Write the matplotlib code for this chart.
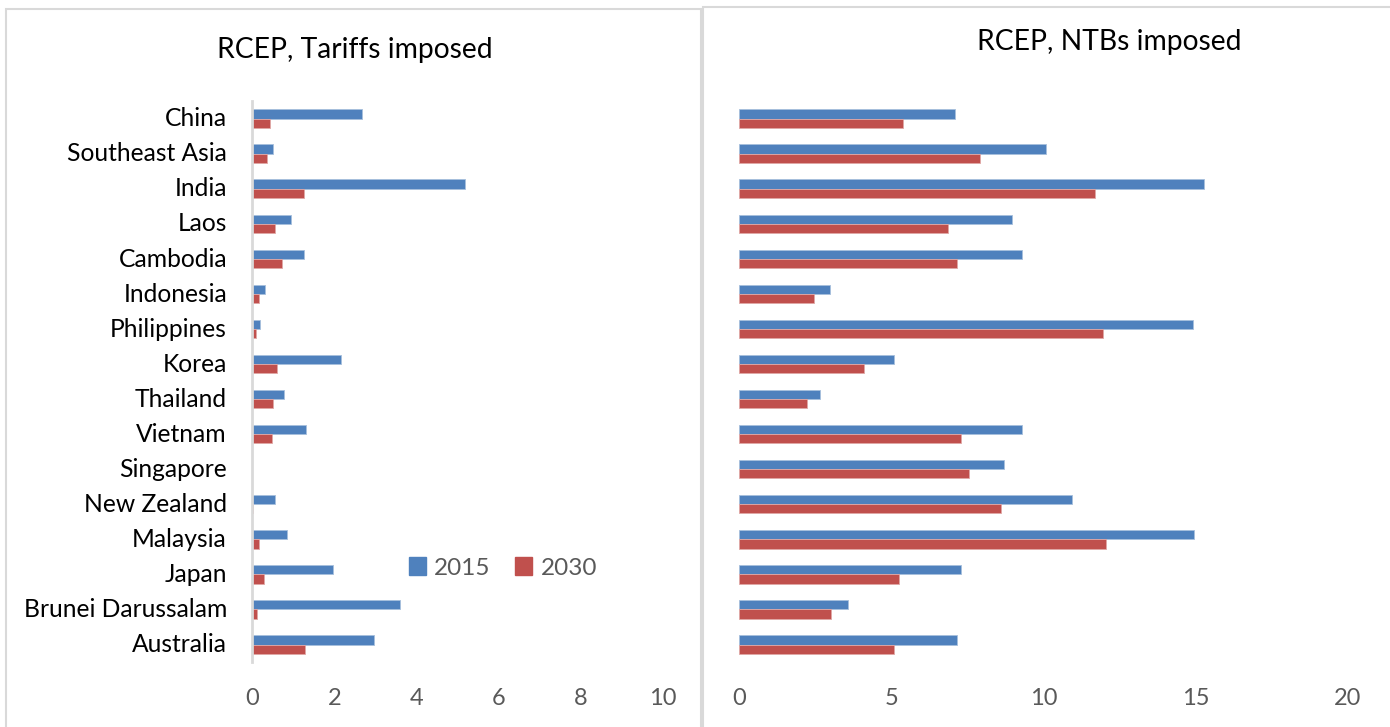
import numpy as np
import matplotlib.pyplot as plt
from matplotlib.patches import Rectangle, Patch

plt.rcParams['font.family'] = ['Lato', 'DejaVu Sans']

countries = ['China', 'Southeast Asia', 'India', 'Laos', 'Cambodia', 'Indonesia',
             'Philippines', 'Korea', 'Thailand', 'Vietnam', 'Singapore',
             'New Zealand', 'Malaysia', 'Japan', 'Brunei Darussalam', 'Australia']

# tariffs imposed
tariff_2015 = [2.68, 0.52, 5.18, 0.96, 1.27, 0.32, 0.19, 2.17,
               0.78, 1.31, 0.0, 0.57, 0.85, 1.96, 3.59, 2.97]
tariff_2030 = [0.43, 0.37, 1.27, 0.56, 0.73, 0.16, 0.09, 0.62,
               0.50, 0.49, 0.0, 0.02, 0.16, 0.30, 0.11, 1.28]

# NTBs imposed
ntb_2015 = [7.09, 10.08, 15.26, 8.97, 9.31, 3.00, 14.92, 5.09,
            2.66, 9.29, 8.71, 10.92, 14.93, 7.29, 3.57, 7.16]
ntb_2030 = [5.39, 7.90, 11.70, 6.85, 7.16, 2.45, 11.94, 4.12,
            2.24, 7.30, 7.54, 8.62, 12.04, 5.24, 3.02, 5.10]

BLUE = '#4F81BD'
RED = '#C0504D'
GREY = '#595959'

W, H = 1390, 727
fig = plt.figure(figsize=(W / 100, H / 100), dpi=100)

# two chart frames side by side
fig.add_artist(Rectangle((6 / W, -0.02), 695 / W, (727 - 9) / H + 0.02,
                         transform=fig.transFigure, fill=False,
                         ec='#d9d9d9', lw=1.5))
fig.add_artist(Rectangle((703 / W, -0.02), 700 / W, (727 - 7) / H + 0.02,
                         transform=fig.transFigure, fill=False,
                         ec='#d9d9d9', lw=1.5))

y = np.arange(len(countries))
h = 0.262
ax_bottom = (H - 662.1) / H
ax_height = 561.1 / H


def draw_panel(ax, v2015, v2030, xmax, step):
    ax.barh(y - h / 2, v2015, height=h, color=BLUE, edgecolor='#a7bfdc', linewidth=0.6, label='2015')
    ax.barh(y + h / 2, v2030, height=h, color=RED, edgecolor='#e0a8a6', linewidth=0.6, label='2030')
    ax.set_ylim(len(countries) - 0.5, -0.5)
    ax.set_xlim(0, xmax)
    ax.set_xticks(np.arange(0, xmax + 1, step))
    ax.tick_params(axis='x', length=0, labelsize=17, colors=GREY, pad=19)
    for s in ['top', 'right', 'bottom', 'left']:
        ax.spines[s].set_visible(False)
    ax.patch.set_alpha(0)


ax1 = fig.add_axes([252 / W, ax_bottom, 411 / W, ax_height])
draw_panel(ax1, tariff_2015, tariff_2030, 10, 2)
ax1.spines['left'].set_visible(True)
ax1.spines['left'].set_color('#d9d9d9')
ax1.spines['left'].set_linewidth(2)
ax1.set_yticks(y - 0.05)
ax1.set_yticklabels(countries)
ax1.tick_params(axis='y', length=0, labelsize=17.7, labelcolor='black', pad=18)

ax2 = fig.add_axes([739 / W, ax_bottom, 609 / W, ax_height])
draw_panel(ax2, ntb_2015, ntb_2030, 20, 5)
ax2.set_yticks([])

fig.text(355 / W, (H - 50) / H, 'RCEP, Tariffs imposed', ha='center', va='center',
         fontsize=20.3, color='black')
fig.text(1109 / W, (H - 42) / H, 'RCEP, NTBs imposed', ha='center', va='center',
         fontsize=20.3, color='black')

handles = [Patch(color=BLUE, label='2015'), Patch(color=RED, label='2030')]
fig.legend(handles=handles, loc='center', bbox_to_anchor=(503 / W, (H - 568) / H),
           ncol=2, frameon=False, fontsize=17.5, labelcolor=GREY,
           handlelength=0.7, handleheight=0.7, handletextpad=0.35, columnspacing=1.0)

fig.savefig('out.png', dpi=100, facecolor='white')
